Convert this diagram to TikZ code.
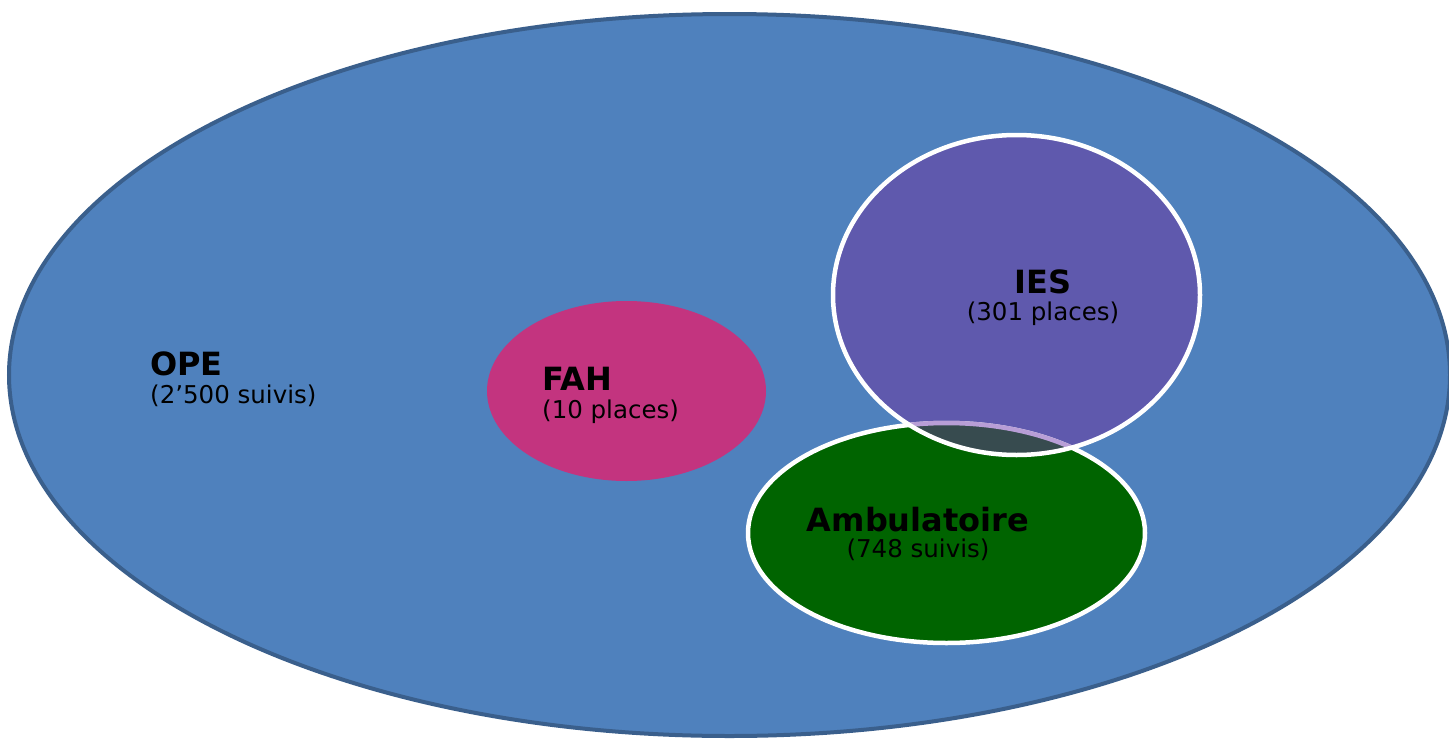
\documentclass[tikz,border=0pt]{standalone}
\usepackage{fontspec}
\setmainfont{DejaVu Sans}
\definecolor{opeblue}{HTML}{4F81BD}
\definecolor{opeedge}{HTML}{3A5F8C}
\definecolor{fahpink}{HTML}{C3347F}
\definecolor{iespurple}{HTML}{5F59AD}
\definecolor{ambgreen}{HTML}{006400}
\definecolor{overlapdark}{HTML}{374B4F}
\definecolor{lilac}{HTML}{B89ED6}
\begin{document}
\begin{tikzpicture}[x=1pt,y=-1pt,
  title/.style={inner sep=0pt, text=black, font=\bfseries\fontsize{32}{32}\selectfont},
  sub/.style={inner sep=0pt, text=black, font=\fontsize{24.5}{24.5}\selectfont},
  ring/.style={draw=white, line width=4.5pt}]
\useasboundingbox (0,0) rectangle (1449,739);
\fill[white] (0,0) rectangle (1449,739);
% OPE
\draw[fill=opeblue, draw=opeedge, line width=4pt] (729.5,375) ellipse [x radius=720.5, y radius=361];
% FAH
\fill[fahpink] (626.5,391) ellipse [x radius=139.5, y radius=90];
% IES fill
\fill[iespurple] (1016.5,295) ellipse [x radius=183.5, y radius=160];
% Ambulatoire
\draw[ring, fill=ambgreen] (946.5,533) ellipse [x radius=198.5, y radius=110];
% overlap
\begin{scope}
  \clip (1016.5,295) ellipse [x radius=183.5, y radius=160];
  \draw[fill=overlapdark, draw=lilac, line width=4.5pt] (946.5,533) ellipse [x radius=198.5, y radius=110];
\end{scope}
% IES border
\draw[ring] (1016.5,295) ellipse [x radius=183.5, y radius=160];
% labels
\node[title, anchor=base west] (opet) at (150,375) {OPE};
\node[sub, anchor=base west] (opes) at (150,403) {(2’500 suivis)};
\node[title, anchor=base west] (faht) at (542,390) {FAH};
\node[sub, anchor=base west] (fahs) at (542,418) {(10 places)};
\node[title, anchor=base] (iest) at (1043,293) {IES};
\node[sub, anchor=base] (iess) at (1043,320) {(301 places)};
\node[title, anchor=base] (ambt) at (918,531) {Ambulatoire};
\node[sub, anchor=base] (ambs) at (918,557) {(748 suivis)};
\end{tikzpicture}
\end{document}
